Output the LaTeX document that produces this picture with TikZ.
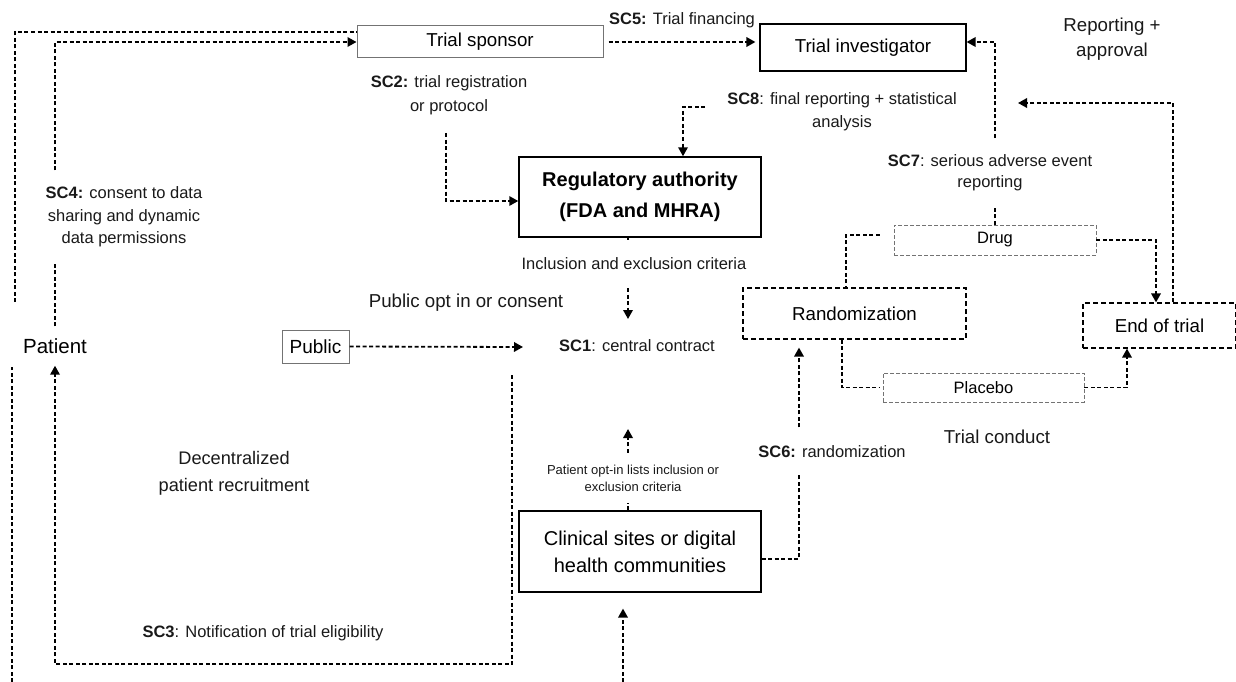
\documentclass[tikz,border=0pt]{standalone}
\usepackage{fontspec}
\setmainfont{Liberation Sans}
\usetikzlibrary{arrows.meta}
\newcommand\fsT{\fontsize{13}{17}\selectfont}
\newcommand\fsS{\fontsize{16.5}{22.5}\selectfont}
\newcommand\fsM{\fontsize{18.7}{25}\selectfont}
\newcommand\fsL{\fontsize{20}{27}\selectfont}
\begin{document}
\begin{tikzpicture}[x=1pt,y=-1pt,
  box/.style={draw=black, line width=1.2pt, inner sep=0pt},
  graybox/.style={draw=black!55, line width=1pt, inner sep=0pt},
  dbox/.style={draw=black, line width=1.2pt, dash pattern=on 5pt off 3pt, inner sep=0pt},
  lbox/.style={draw=black!55, line width=0.8pt, dash pattern=on 4pt off 2pt, inner sep=0pt},
  conn/.style={line width=1.8pt, dash pattern=on 4pt off 2.5pt},
  arr/.style={-{Triangle[length=9pt,width=9.5pt]}},
  lab/.style={align=center, inner sep=0pt, text=black!90},
]
\useasboundingbox (0,0) rectangle (1236,682);

% boxes
\node[graybox, minimum width=246pt, minimum height=32pt, font=\fsM] (sponsor) at (480,42) {Trial sponsor};
\node[box, minimum width=206pt, minimum height=47pt, font=\fsM] (inv) at (863,47.5) {Trial investigator};
\node[box, line width=1.5pt, minimum width=242pt, minimum height=80pt, font=\fontsize{20}{31}\selectfont\bfseries, align=center] (reg) at (640,197) {Regulatory authority\\(FDA and MHRA)};
\node[box, minimum width=242pt, minimum height=81pt, font=\fsL, align=center] (clin) at (640,551.5) {Clinical sites or digital\\health communities};
\node[graybox, minimum width=67pt, minimum height=33pt, font=\fontsize{19}{23}\selectfont] (public) at (315.5,346.5) {Public};
\node[dbox, minimum width=223pt, minimum height=51pt, font=\fsM] (rand) at (854.5,313.5) {Randomization};
\node[dbox, minimum width=153pt, minimum height=45pt, font=\fsM] (eot) at (1159.5,325.5) {End of trial};
\node[lbox, minimum width=202pt, minimum height=30pt, font=\fsS] (drug) at (995,240) {Drug};
\node[lbox, minimum width=201pt, minimum height=29pt, font=\fsS] (placebo) at (983.5,387.5) {Placebo};
\node[font=\fontsize{20.5}{24}\selectfont, inner xsep=2pt, inner ysep=12pt] (patient) at (55,346) {Patient};

% plain labels
\node[lab, font=\fsS] (sc5) at (682,20) {\textbf{SC5:} Trial financing};
\node[lab, font=\fontsize{16.5}{24}\selectfont] (sc2) at (449,95) {\textbf{SC2:} trial registration\\or protocol};
\node[lab, font=\fontsize{16.5}{23}\selectfont] (sc8) at (842,111.5) {\textbf{SC8}: final reporting + statistical\\analysis};
\node[lab, font=\fontsize{16.5}{21.5}\selectfont] (sc7) at (990,172.5) {\textbf{SC7}: serious adverse event\\reporting};
\node[lab, font=\fontsize{18.7}{25}\selectfont] (repapp) at (1112,39.5) {Reporting +\\approval};
\node[lab, font=\fsM] (pubopt) at (466,303) {Public opt in or consent};
\node[lab, font=\fsS, minimum height=48pt] (inc) at (634,264) {Inclusion and exclusion criteria};
\node[lab, font=\fsS] (sc1) at (637,346) {\textbf{SC1}: central contract};
\node[lab, font=\fsT, minimum height=50pt] (popt) at (633,478) {Patient opt-in lists inclusion or\\exclusion criteria};
\node[lab, font=\fsM] (tc) at (997,437) {Trial conduct};
\node[lab, font=\fontsize{18.2}{27}\selectfont] (dec) at (234,473.5) {Decentralized\\patient recruitment};
\node[lab, font=\fsS] (sc3) at (263,633) {\textbf{SC3}: Notification of trial eligibility};

% free ends
\coordinate (o1) at (15,302);
\coordinate (o2a) at (12,682);
\coordinate (o2b) at (12,367);
\coordinate (c2) at (446,133);
\coordinate (c8) at (705,107);
\coordinate (c7) at (995,138);
\coordinate (crep) at (1018,103);
\coordinate (c1in) at (523,347);
\coordinate (c3) at (512,375);
\coordinate (c3b) at (512,664);
\coordinate (incx) at (628,0);
\coordinate (c1top) at (628,319);
\coordinate (c1bot) at (628,429);
\coordinate (cbot) at (623,682);

% connectors
\draw[conn] (o1) |- ([yshift=10pt]sponsor.west);
\draw[conn] (o2a) -- (o2b);
\draw[conn,arr] (patient.north) |- (sponsor.west);
\draw[conn,arr] (c3) -- (c3b) -| (patient.south);
\draw[conn,arr] (public.east) -- (c1in);
\draw[conn,arr,shorten <=5pt,shorten >=4pt] (sponsor.east) -- (sponsor.east -| inv.west);
\draw[conn,arr] (c2) |- ([yshift=-4pt]reg.west);
\draw[conn,arr] (c8) -| ([xshift=43pt]reg.north);
\draw[conn,arr] (c7) |- ([yshift=5.5pt]inv.east);
\draw[conn] (drug.north) -- ++(0,-17);
\draw[conn,arr] ([xshift=13.5pt]eot.north) |- (crep);
\draw[conn] ([xshift=-14pt,yshift=5pt]drug.west) -| ([xshift=-8.5pt]rand.north);
\draw[conn,arr] (drug.east) -| ([xshift=-3.5pt]eot.north);
\draw[conn] ([xshift=-12.5pt]rand.south) |- ([xshift=-3pt]placebo.west);
\draw[conn,arr] (placebo.east) -| ([xshift=-32.5pt]eot.south);
\draw[conn,arr] ([yshift=-7.5pt]clin.east) -| ([xshift=-55.5pt,yshift=-8pt]rand.south);
\draw[conn] (incx |- reg.south) -- (incx |- inc.north);
\draw[conn,arr] (incx |- inc.south) -- (c1top);
\draw[conn,arr] (incx |- popt.north) -- (c1bot);
\draw[conn] (incx |- clin.north) -- (incx |- popt.south);
\draw[conn,arr,shorten >=16pt] (cbot) -- (cbot |- clin.south);

% labels that sit on connectors
\node[lab, font=\fsS, fill=white, inner xsep=3pt, inner ysep=15pt] (sc4) at (124,217) {\textbf{SC4:} consent to data\\sharing and dynamic\\data permissions};
\node[lab, font=\fsS, fill=white, inner xsep=3pt, inner ysep=16pt] (sc6) at (832,452) {\textbf{SC6:} randomization};
\end{tikzpicture}
\end{document}
